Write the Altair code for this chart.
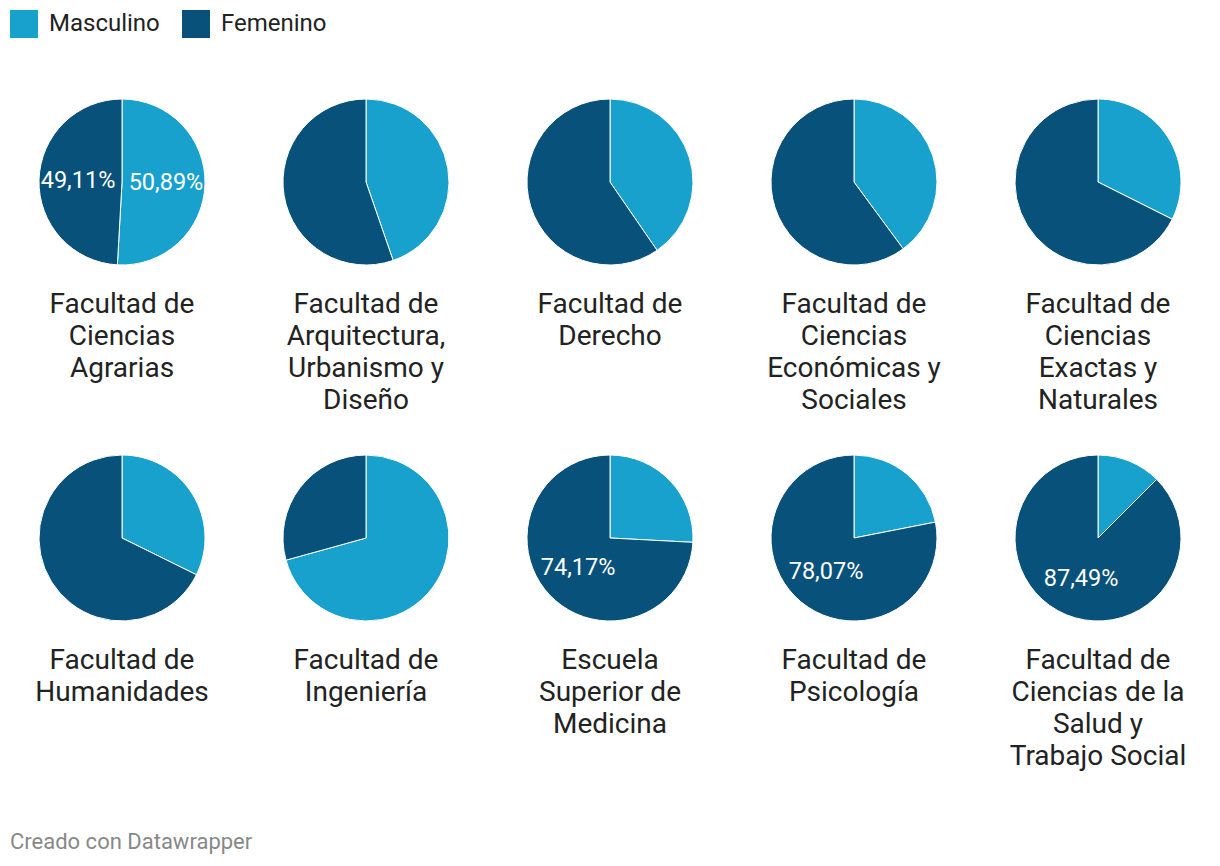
import altair as alt
import pandas as pd

# --- data ---
facultades = [
    "Facultad de\nCiencias\nAgrarias",
    "Facultad de\nArquitectura,\nUrbanismo y\nDiseño",
    "Facultad de\nDerecho",
    "Facultad de\nCiencias\nEconómicas y\nSociales",
    "Facultad de\nCiencias\nExactas y\nNaturales",
    "Facultad de\nHumanidades",
    "Facultad de\nIngeniería",
    "Escuela\nSuperior de\nMedicina",
    "Facultad de\nPsicología",
    "Facultad de\nCiencias de la\nSalud y\nTrabajo Social",
]
masculino = [50.89, 44.7, 40.4, 39.9, 32.4, 32.3, 70.7, 25.83, 21.93, 12.51]
femenino = [49.11, 55.3, 59.6, 60.1, 67.6, 67.7, 29.3, 74.17, 78.07, 87.49]
mostrar_masculino = [True, False, False, False, False, False, False, False, False, False]
mostrar_femenino = [True, False, False, False, False, False, False, True, True, True]

generos = ["Masculino", "Femenino"]
colores = ["#18a1cd", "#07517a"]


def fmt(v):
    return f"{v:.2f}".replace(".", ",") + "%"


rows = []
for i, fac in enumerate(facultades):
    rows.append(dict(idx=i, fac=fac, genero="Masculino", orden=0, valor=masculino[i],
                     etiqueta=fmt(masculino[i]) if mostrar_masculino[i] else ""))
    rows.append(dict(idx=i, fac=fac, genero="Femenino", orden=1, valor=femenino[i],
                     etiqueta=fmt(femenino[i]) if mostrar_femenino[i] else ""))
df = pd.DataFrame(rows)

CX = 112
CY = 114

base = alt.Chart().encode(
    theta=alt.Theta("valor:Q", stack=True),
    order=alt.Order("orden:Q"),
)

pie = base.mark_arc(outerRadius=83, stroke="white", strokeWidth=1, x=CX, y=CY).encode(
    color=alt.Color(
        "genero:N",
        scale=alt.Scale(domain=generos, range=colores),
        sort=generos,
        legend=alt.Legend(
            title=None,
            orient="top",
            direction="horizontal",
            symbolType="square",
            symbolSize=784,
            symbolStrokeWidth=0,
            labelFontSize=24,
            labelFont="Roboto",
            labelColor="#222222",
            labelOffset=11,
            columnPadding=22,
            offset=30,
            padding=0,
        ),
    )
)

labels = base.mark_text(
    radius=44, x=CX, y=CY, font="Roboto", fontSize=23.5, color="white",
    align="center", baseline="middle",
).encode(text="etiqueta:N")

titulo = alt.Chart().mark_text(
    x=CX, y=245, align="center", baseline="alphabetic", lineBreak="\n",
    lineHeight=32, fontSize=28, font="Roboto", color="#222222",
).encode(text="fac:N").transform_filter("datum.orden == 0")


def panel(i):
    return alt.layer(pie, labels, titulo).transform_filter(
        f"datum.idx == {i}"
    ).properties(width=210, height=356)


fila1 = alt.hconcat(*[panel(i) for i in range(5)], spacing=34)
fila2 = alt.hconcat(*[panel(i) for i in range(5, 10)], spacing=34)

chart = alt.vconcat(fila1, fila2, spacing=0, data=df).properties(
    padding={"left": 2, "top": 2, "right": 0, "bottom": 10},
    title=alt.TitleParams(
        "Creado con Datawrapper",
        orient="bottom",
        anchor="start",
        fontSize=22,
        font="Roboto",
        fontWeight="normal",
        color="#888888",
        offset=52,
    ),
).configure_view(stroke=None).configure(font="Roboto")

chart.save("out.html", embed_options={"renderer": "svg", "actions": False})
